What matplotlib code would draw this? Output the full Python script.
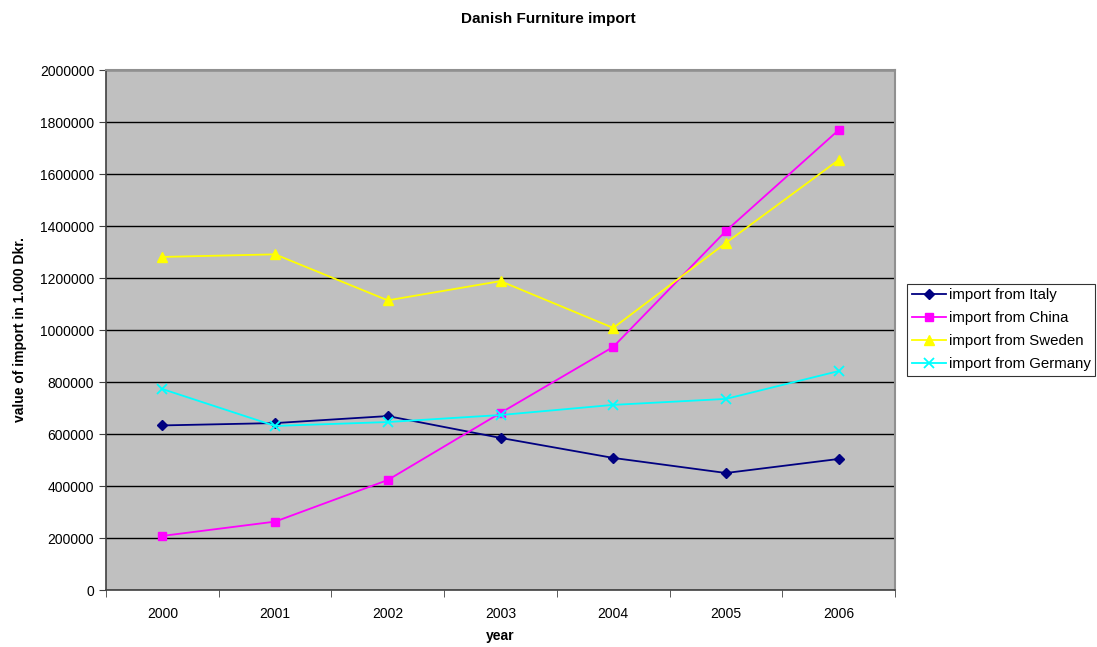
import numpy as np
import matplotlib
matplotlib.use("Agg")
import matplotlib.pyplot as plt

years = ["2000", "2001", "2002", "2003", "2004", "2005", "2006"]
italy = [633000, 642000, 669000, 585000, 508000, 450000, 504000]
china = [208000, 263000, 423000, 681000, 935000, 1381000, 1769000]
sweden = [1281000, 1291000, 1114000, 1188000, 1008000, 1335000, 1654000]
germany = [773000, 631000, 646000, 673000, 712000, 735000, 842000]

plt.rcParams["font.family"] = ["Liberation Sans", "DejaVu Sans"]

fig = plt.figure(figsize=(10.97, 6.47), dpi=100)
ax = fig.add_axes([106 / 1097, 57 / 647, 789 / 1097, 520 / 647])
ax.set_facecolor("#c0c0c0")

x = np.arange(len(years))
ax.plot(x, italy, color="#000080", marker="D", markersize=5, linewidth=1.3,
        label="import from Italy")
ax.plot(x, china, color="#ff00ff", marker="s", markersize=6, linewidth=1.3,
        label="import from China")
ax.plot(x, sweden, color="#ffff00", marker="^", markersize=7, linewidth=1.3,
        label="import from Sweden")
ax.plot(x, germany, color="#00ffff", marker="x", markersize=7, markeredgewidth=1.3,
        linewidth=1.3, label="import from Germany")

ax.set_xlim(-0.5, len(years) - 0.5)
ax.set_ylim(0, 2000000)
ax.set_yticks(np.arange(0, 2000001, 200000))
ax.set_yticklabels([str(v) for v in range(0, 2000001, 200000)], fontsize=10)
ax.set_xticks(x)
ax.set_xticklabels(years, fontsize=10)
ax.set_xticks(np.arange(-0.5, len(years), 1.0), minor=True)
ax.tick_params(axis="x", which="major", length=0, pad=12)
ax.tick_params(axis="x", which="minor", length=5, color="#404040")
ax.tick_params(axis="y", length=5, color="#404040")

ax.grid(axis="y", color="black", linewidth=1.0)
ax.set_axisbelow(True)
for side in ["top", "right"]:
    ax.spines[side].set_color("#909090")
    ax.spines[side].set_linewidth(1.5)
for side in ["left", "bottom"]:
    ax.spines[side].set_color("#404040")
    ax.spines[side].set_linewidth(1.2)

ax.set_xlabel("year", fontsize=10, fontweight="bold", labelpad=6)
ax.set_ylabel("value of import in 1.000 Dkr.", fontsize=10, fontweight="bold", labelpad=9)
fig.suptitle("Danish Furniture import", fontsize=11, fontweight="bold",
             x=0.5, y=0.982)

# legend sits outside the plot area, against the right edge
leg = fig.legend(loc="center left", bbox_to_anchor=(907 / 1097, 1 - 330 / 647),
                 fontsize=10.8, frameon=True, fancybox=False, edgecolor="black",
                 handlelength=2.3, handletextpad=0.2, borderpad=0.3,
                 borderaxespad=0.0, labelspacing=0.6)
leg.get_frame().set_linewidth(0.8)

fig.savefig("out.png", dpi=100)
